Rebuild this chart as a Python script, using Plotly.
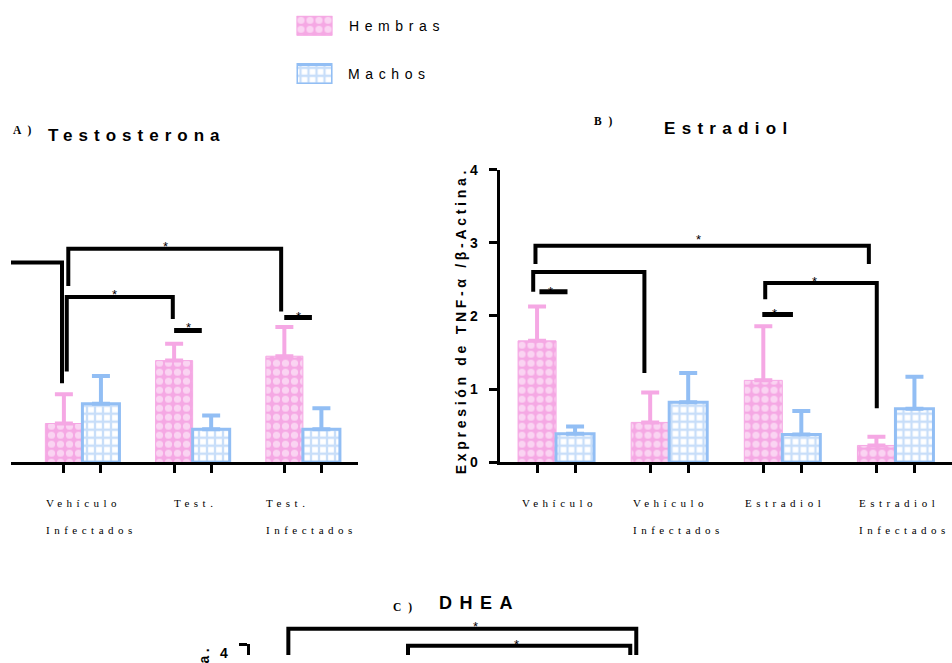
import plotly.graph_objects as go

W, H = 952, 663
def fx(px): return px / W
def fy(py): return 1 - py / H

PINK = "#F5A8E4"
BLUE = "#92BEF4"
SANS = "Liberation Sans, Arial, sans-serif"
SERIF = "Liberation Serif, Times New Roman, serif"

series_names = ["Hembras", "Machos"]

# ---------------- Panel A : Testosterona ----------------
a_letter = "A )"
a_title = "Testosterona"
a_groups = [["Vehículo", "Infectados"], ["Test."], ["Test.", "Infectados"]]
a_hembras = [0.53, 1.39, 1.45]
a_hembras_err = [0.40, 0.23, 0.40]
a_machos = [0.80, 0.45, 0.45]
a_machos_err = [0.38, 0.19, 0.29]
# brackets: [x_left, x_right, y_top, y_left_end, y_right_end]
a_brackets = [[-1.168, -0.185, 2.73, 2.40, 1.08],
              [-0.128, 1.803, 2.92, 2.41, 2.06],
              [-0.142, 0.820, 2.26, 1.24, 1.96]]
a_bracket_stars = [None, [0.757, 2.99], [0.287, 2.34]]
a_dashes = [[0.832, 1.083, 1.80], [1.831, 2.082, 1.98]]
a_dash_stars = [[0.96, 1.88], [1.958, 2.04]]

# ---------------- Panel B : Estradiol ----------------
b_letter = "B )"
b_title = "Estradiol"
b_groups = [["Vehículo"], ["Vehículo", "Infectados"], ["Estradiol"], ["Estradiol", "Infectados"]]
b_hembras = [1.66, 0.545, 1.12, 0.23]
b_hembras_err = [0.47, 0.41, 0.74, 0.12]
b_machos = [0.39, 0.82, 0.38, 0.73]
b_machos_err = [0.10, 0.40, 0.32, 0.44]
b_yticks = [0, 1, 2, 3, 4]
b_brackets = [[-0.182, 2.765, 2.96, 2.71, 2.71],
              [-0.202, 0.781, 2.60, 2.33, 1.22],
              [1.849, 2.835, 2.45, 2.23, 0.74]]
b_bracket_stars = [[1.255, 3.08], None, [2.282, 2.51]]
b_dashes = [[-0.147, 0.101, 2.33], [1.823, 2.094, 2.02]]
b_dash_stars = [[-0.05, 2.37], [1.929, 2.08]]

y_title = "Expresión de TNF-α /β-Actina."

# ---------------- Panel C : DHEA (top edge only) ----------------
c_letter = "C )"
c_title = "DHEA"
c_yticks = [4]
c_brackets = [[-0.164, 2.845, 4.21, 3.70, 3.70],
              [0.871, 2.793, 3.98, 3.70, 3.70]]
c_bracket_stars = [[1.457, 4.28], [1.808, 4.04]]

BW = 0.336   # bar width (category units)
PX_PER_UNIT = 75.25

def sp(text, ls, size=None):
    st = f"letter-spacing:{ls}px"
    if size:
        st += f";font-size:{size}px"
    return f'<span style="{st}">{text}</span>'

fig = go.Figure()

def pink_marker():
    return dict(color=PINK, line=dict(color=PINK, width=1),
                pattern=dict(shape=".", fgcolor="white", size=9, solidity=0.5, fillmode="overlay"))

def blue_marker():
    return dict(color="white", line=dict(color=BLUE, width=3),
                pattern=dict(shape="+", fgcolor=BLUE, size=8, solidity=0.5, fillmode="overlay"))

def add_bars(xa, ya, h, herr, m, merr):
    n = len(h)
    idx = list(range(n))
    fig.add_trace(go.Bar(x=idx, y=h, xaxis=xa, yaxis=ya, width=BW, offset=-BW,
                         name=series_names[0], marker=pink_marker(),
                         error_y=dict(type="data", array=herr, arrayminus=[0] * n, symmetric=False,
                                      color=PINK, thickness=4, width=9),
                         showlegend=False, hoverinfo="skip"))
    fig.add_trace(go.Bar(x=idx, y=m, xaxis=xa, yaxis=ya, width=BW, offset=0,
                         name=series_names[1], marker=blue_marker(),
                         error_y=dict(type="data", array=merr, arrayminus=[0] * n, symmetric=False,
                                      color=BLUE, thickness=4, width=9),
                         showlegend=False, hoverinfo="skip"))

add_bars("x", "y", a_hembras, a_hembras_err, a_machos, a_machos_err)
add_bars("x2", "y2", b_hembras, b_hembras_err, b_machos, b_machos_err)
fig.add_trace(go.Scatter(x=[], y=[], xaxis="x3", yaxis="y3", showlegend=False, hoverinfo="skip"))
fig.add_trace(go.Scatter(x=[], y=[], xaxis="x3", yaxis="y5", showlegend=False, hoverinfo="skip"))

fig.add_trace(go.Bar(y=[1], x=[1], orientation="h", xaxis="x4", yaxis="y4", width=0.4, offset=-0.2,
                     marker=pink_marker(), showlegend=False, hoverinfo="skip"))
fig.add_trace(go.Bar(y=[0], x=[1], orientation="h", xaxis="x4", yaxis="y4", width=0.4, offset=-0.2,
                     marker=blue_marker(), showlegend=False, hoverinfo="skip"))

shapes = []
annotations = []

def add_brackets(xr, yr, brackets, stars):
    for br, st in zip(brackets, stars):
        x0, x1, top, y0, y1 = br
        shapes.append(dict(type="path", xref=xr, yref=yr,
                           path=f"M {x0},{y0} L {x0},{top} L {x1},{top} L {x1},{y1}",
                           line=dict(color="black", width=4)))
        if st:
            annotations.append(dict(x=st[0], y=st[1], xref=xr, yref=yr, text="*", showarrow=False,
                                    font=dict(family=SANS, size=13, color="black"), yshift=-3))

def add_dashes(xr, yr, dashes, stars):
    for d, st in zip(dashes, stars):
        shapes.append(dict(type="line", xref=xr, yref=yr, x0=d[0], x1=d[1], y0=d[2], y1=d[2],
                           line=dict(color="black", width=5)))
        annotations.append(dict(x=st[0], y=st[1], xref=xr, yref=yr, text="*", showarrow=False,
                                font=dict(family=SANS, size=13, color="black"), yshift=-3))

add_brackets("x", "y", a_brackets, a_bracket_stars)
add_dashes("x", "y", a_dashes, a_dash_stars)
add_brackets("x2", "y2", b_brackets, b_bracket_stars)
add_dashes("x2", "y2", b_dashes, b_dash_stars)
add_brackets("x3", "y5", c_brackets, c_bracket_stars)

def add_group_labels(xr, groups):
    for i, lines in enumerate(groups):
        txt = "<br>".join(sp(l, 4.5, 11) for l in lines)
        annotations.append(dict(x=i, y=fy(499), xref=xr, yref="paper", text=txt, showarrow=False,
                                xanchor="center", yanchor="top", align="left",
                                xshift=9 if len(lines) > 1 else 3,
                                font=dict(family=SERIF, size=20.5, color="black")))

add_group_labels("x", a_groups)
add_group_labels("x2", b_groups)

def add_title(letter, title, lx, ly, tx, ty, tsize, tls):
    annotations.append(dict(x=fx(lx), y=fy(ly), xref="paper", yref="paper", text=sp(letter, 2),
                            showarrow=False, xanchor="left", yanchor="middle",
                            font=dict(family=SERIF, size=11.5, color="black", weight="bold")))
    annotations.append(dict(x=fx(tx), y=fy(ty), xref="paper", yref="paper", text=sp(title, tls),
                            showarrow=False, xanchor="left", yanchor="middle",
                            font=dict(family=SANS, size=tsize, color="black", weight="bold")))

add_title(a_letter, a_title, 11, 126, 46, 131, 17, 6)
add_title(b_letter, b_title, 592, 116, 662, 123, 17, 6.3)
add_title(c_letter, c_title, 391, 614, 437, 610, 18, 7.5)

annotations.append(dict(x=fx(461), y=fy(321), xref="paper", yref="paper", text=sp(y_title, 3.7),
                        textangle=-90, showarrow=False, xanchor="center", yanchor="middle",
                        font=dict(family=SANS, size=14, color="black", weight="bold")))
annotations.append(dict(x=fx(204), y=fy(651), xref="paper", yref="paper", text=sp(y_title, 3.7),
                        textangle=-90, showarrow=False, xanchor="center", yanchor="top",
                        font=dict(family=SANS, size=14, color="black", weight="bold")))

for name, yv, lx in zip(series_names, [1, 0], [347, 346]):
    annotations.append(dict(x=fx(lx), y=yv, xref="paper", yref="y4", text=sp(name, 5.6),
                            showarrow=False, xanchor="left", yanchor="middle",
                            font=dict(family=SANS, size=14, color="black")))

def bar_ticks(n):
    v = []
    for i in range(n):
        v += [i - BW / 2, i + BW / 2]
    return v

xcommon = dict(showgrid=False, zeroline=False, showline=True, linecolor="black", linewidth=3,
               ticks="outside", ticklen=8, tickwidth=3, tickcolor="black", showticklabels=False,
               tickmode="array")

a_left_px, a_c0 = 11, 82.35
a_s = 110.15
fig.update_layout(
    xaxis=dict(domain=[fx(a_left_px), fx(358)],
               range=[(a_left_px - a_c0) / a_s, 2.5], tickvals=bar_ticks(len(a_hembras)), anchor="y", **xcommon),
    yaxis=dict(domain=[fy(465.5), fy(165.7)], range=[0, 4], visible=False, anchor="x"),
    xaxis2=dict(domain=[fx(499.5), 1.0], range=[-0.5, 3.5], tickvals=bar_ticks(len(b_hembras)),
                anchor="y2", **xcommon),
    yaxis2=dict(domain=[fy(465.5), fy(165.7)], range=[0, 4], anchor="x2", showgrid=False, zeroline=False,
                showline=True, linecolor="black", linewidth=3, ticks="outside", ticklen=8, tickwidth=3,
                tickcolor="black", tickmode="array", tickvals=b_yticks, ticklabelstandoff=8,
                tickfont=dict(family=SANS, size=14, color="black", weight="bold")),
    xaxis3=dict(domain=[fx(249.5), fx(712)], range=[-0.5, 3.5], anchor="y3", showgrid=False, zeroline=False,
                showline=False, ticks="", showticklabels=False),
    yaxis3=dict(domain=[0, fy(652)], range=[4 - 11 / PX_PER_UNIT, 4], anchor="x3", showgrid=False,
                zeroline=False, showline=True, linecolor="black", linewidth=3, ticks="outside", ticklen=8,
                tickwidth=3, tickcolor="black", tickmode="array", tickvals=c_yticks, ticklabelstandoff=8,
                ticklabelshift=9,
                tickfont=dict(family=SANS, size=14, color="black", weight="bold")),
    yaxis5=dict(domain=[0, fy(626)], range=[4 - 11 / PX_PER_UNIT, 4 + 26 / PX_PER_UNIT], anchor="x3",
                visible=False),
    xaxis4=dict(domain=[fx(296.5), fx(332.5)], range=[0, 1], anchor="y4", visible=False),
    yaxis4=dict(domain=[fy(78), fy(8)], range=[-0.2, 1.2], anchor="x4", visible=False),
    width=W, height=H, autosize=False,
    margin=dict(l=0, r=0, t=0, b=0, pad=0),
    paper_bgcolor="white", plot_bgcolor="rgba(0,0,0,0)",
    showlegend=False, barmode="group",
    shapes=shapes, annotations=annotations,
)

fig.write_html("out.html", config={"displayModeBar": False},
               post_script="document.body.style.margin='0';")
